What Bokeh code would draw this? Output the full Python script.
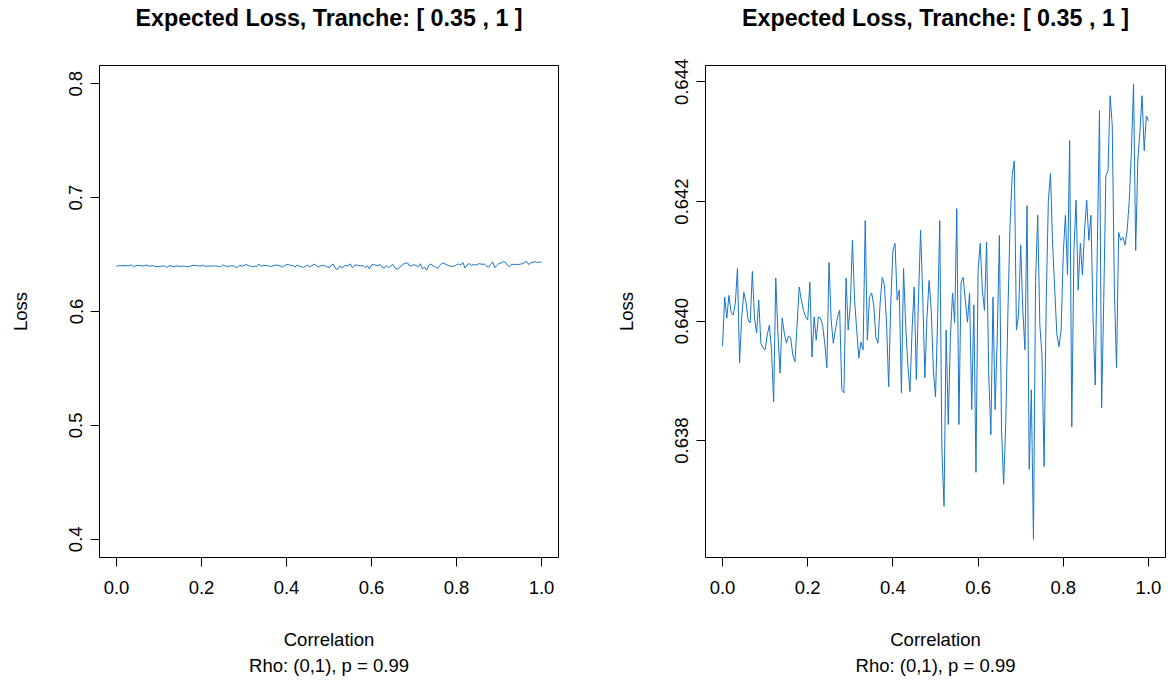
import numpy as np
from bokeh.plotting import figure
from bokeh.layouts import row, column
from bokeh.models import Range1d, FixedTicker, NumeralTickFormatter, Title
from bokeh.embed import file_html
from bokeh.resources import INLINE

# correlation grid, rho in [0, 1] with step 0.005
rho = np.round(np.arange(201) * 0.005, 3)

# expected loss of the [0.35, 1] tranche for each rho
loss = [
    0.63958, 0.64040, 0.64005, 0.64043, 0.64015, 0.64010, 0.64030, 0.64088, 0.63930, 0.64007,
    0.64048, 0.64032, 0.64002, 0.63997, 0.64083, 0.64005, 0.63980, 0.64035, 0.63963, 0.63955,
    0.63952, 0.63977, 0.63993, 0.63952, 0.63865, 0.64072, 0.63980, 0.63913, 0.64005, 0.63980,
    0.63963, 0.63975, 0.63972, 0.63943, 0.63932, 0.63993, 0.64057, 0.64035, 0.64018, 0.64007,
    0.64002, 0.64065, 0.63940, 0.64007, 0.63968, 0.64007, 0.64005, 0.63993, 0.63963, 0.63922,
    0.64098, 0.64002, 0.63963, 0.63985, 0.64007, 0.64018, 0.63885, 0.63880, 0.64072, 0.63985,
    0.64027, 0.64135, 0.64035, 0.63985, 0.63938, 0.63965, 0.63952, 0.64168, 0.63968, 0.64040,
    0.64047, 0.64027, 0.63973, 0.63963, 0.64030, 0.64073, 0.64060, 0.63998, 0.63890, 0.64030,
    0.64118, 0.64130, 0.64035, 0.64052, 0.63880, 0.64088, 0.63993, 0.63927, 0.63882, 0.63985,
    0.64057, 0.63902, 0.64035, 0.64152, 0.64043, 0.63905, 0.64007, 0.64068, 0.64018, 0.63918,
    0.63873, 0.64005, 0.64168, 0.63785, 0.63690, 0.63985, 0.63827, 0.63973, 0.64047, 0.63997,
    0.64188, 0.63827, 0.64065, 0.64073, 0.64035, 0.63998, 0.64047, 0.63852, 0.64027, 0.63747,
    0.64085, 0.64130, 0.64052, 0.64018, 0.64132, 0.63910, 0.63810, 0.64040, 0.63852, 0.63973,
    0.64143, 0.63818, 0.63727, 0.63830, 0.64015, 0.64160, 0.64243, 0.64268, 0.63985, 0.64010,
    0.64127, 0.64018, 0.63952, 0.64193, 0.63752, 0.63885, 0.63635, 0.64068, 0.64177, 0.63993,
    0.63943, 0.63757, 0.64035, 0.64202, 0.64247, 0.64127, 0.64052, 0.63977, 0.63957, 0.63985,
    0.64113, 0.64177, 0.64077, 0.64302, 0.63823, 0.64118, 0.64202, 0.64052, 0.64130, 0.64077,
    0.64152, 0.64202, 0.64135, 0.64177, 0.64002, 0.63893, 0.64127, 0.64352, 0.63855, 0.64035,
    0.64243, 0.64252, 0.64377, 0.64327, 0.64052, 0.63922, 0.64148, 0.64135, 0.64140, 0.64127,
    0.64152, 0.64202, 0.64285, 0.64397, 0.64118, 0.64268, 0.64318, 0.64377, 0.64285, 0.64343,
    0.64335,
]

title_text = "Expected Loss, Tranche: [ 0.35 , 1 ]"
x_label = "Correlation"
sub_label = "Rho: (0,1), p = 0.99"
y_label = "Loss"

x_ticks = [0.0, 0.2, 0.4, 0.6, 0.8, 1.0]
y_ticks_wide = [0.4, 0.5, 0.6, 0.7, 0.8]
y_ticks_zoom = [0.638, 0.640, 0.642, 0.644]

FONT = "Liberation Sans"
LINE = "#1874CD"
TXT = "18.5px"

FIG_W = 585
HEAD_H = 44                    # strip holding the main title
PLOT_H = 680 - HEAD_H
TOP, BOTTOM = 65 - HEAD_H, 123  # frame margins inside the plot figure


def padded(lo, hi, frac=0.04):
    d = (hi - lo) * frac
    return lo - d, hi + d


def make_head(left_border, right_border):
    # thin figure that only carries the bold title; same side borders as the
    # plot below so the title is centred over its frame
    h = figure(width=FIG_W, height=HEAD_H, output_backend="svg", toolbar_location=None,
               x_axis_type=None, y_axis_type=None,
               min_border_left=left_border, min_border_right=right_border,
               min_border_top=0, min_border_bottom=0,
               x_range=Range1d(0, 1), y_range=Range1d(0, 1))
    h.xgrid.grid_line_color = None
    h.ygrid.grid_line_color = None
    h.outline_line_color = None
    h.background_fill_color = "white"
    h.border_fill_color = "white"
    h.title.text = title_text
    h.title.align = "center"
    h.title.vertical_align = "top"
    h.title.standoff = 8
    h.title.text_font = FONT
    h.title.text_font_size = "23.3px"
    h.title.text_font_style = "bold"
    h.title.text_color = "black"
    return h


def make_panel(ylim, yticks, yfmt, left_border, right_border):
    p = figure(width=FIG_W, height=PLOT_H, output_backend="svg", toolbar_location=None,
               min_border_left=left_border, min_border_right=right_border,
               min_border_top=TOP, min_border_bottom=BOTTOM)
    p.title.visible = False
    x0, x1 = padded(0.0, 1.0)
    y0, y1 = padded(*ylim)
    p.x_range = Range1d(x0, x1)
    p.y_range = Range1d(y0, y1)
    p.line(rho, loss, line_color=LINE, line_width=1)

    p.xgrid.grid_line_color = None
    p.ygrid.grid_line_color = None
    p.outline_line_color = "black"
    p.outline_line_width = 1
    p.background_fill_color = "white"
    p.border_fill_color = "white"

    for ax in (p.xaxis[0], p.yaxis[0]):
        ax.axis_line_color = None
        ax.major_tick_in = 0
        ax.major_tick_out = 9
        ax.major_tick_line_color = "black"
        ax.minor_tick_line_color = None
        ax.major_label_text_font = FONT
        ax.major_label_text_font_size = TXT
        ax.major_label_text_color = "black"
        ax.axis_label_text_font = FONT
        ax.axis_label_text_font_size = TXT
        ax.axis_label_text_font_style = "normal"
        ax.axis_label_text_color = "black"

    xa = p.xaxis[0]
    xa.ticker = FixedTicker(ticks=x_ticks)
    xa.formatter = NumeralTickFormatter(format="0.0")
    xa.major_label_standoff = 14
    xa.axis_label = x_label
    xa.axis_label_standoff = 32

    ya = p.yaxis[0]
    ya.ticker = FixedTicker(ticks=yticks)
    ya.formatter = NumeralTickFormatter(format=yfmt)
    ya.major_label_orientation = "vertical"
    ya.major_label_standoff = 8
    ya.axis_label = y_label
    ya.axis_label_standoff = 36

    sub = Title(text=sub_label, align="center", text_font=FONT, text_font_size=TXT,
                text_font_style="normal", text_color="black", standoff=0)
    p.add_layout(sub, "below")
    return p


left = column(make_head(99, 27), make_panel((0.4, 0.8), y_ticks_wide, "0.0", 99, 27))
right = column(make_head(120, 5),
               make_panel((min(loss), max(loss)), y_ticks_zoom, "0.000", 120, 5))

layout = row(left, right)
open("out.html", "w").write(file_html(layout, INLINE))
